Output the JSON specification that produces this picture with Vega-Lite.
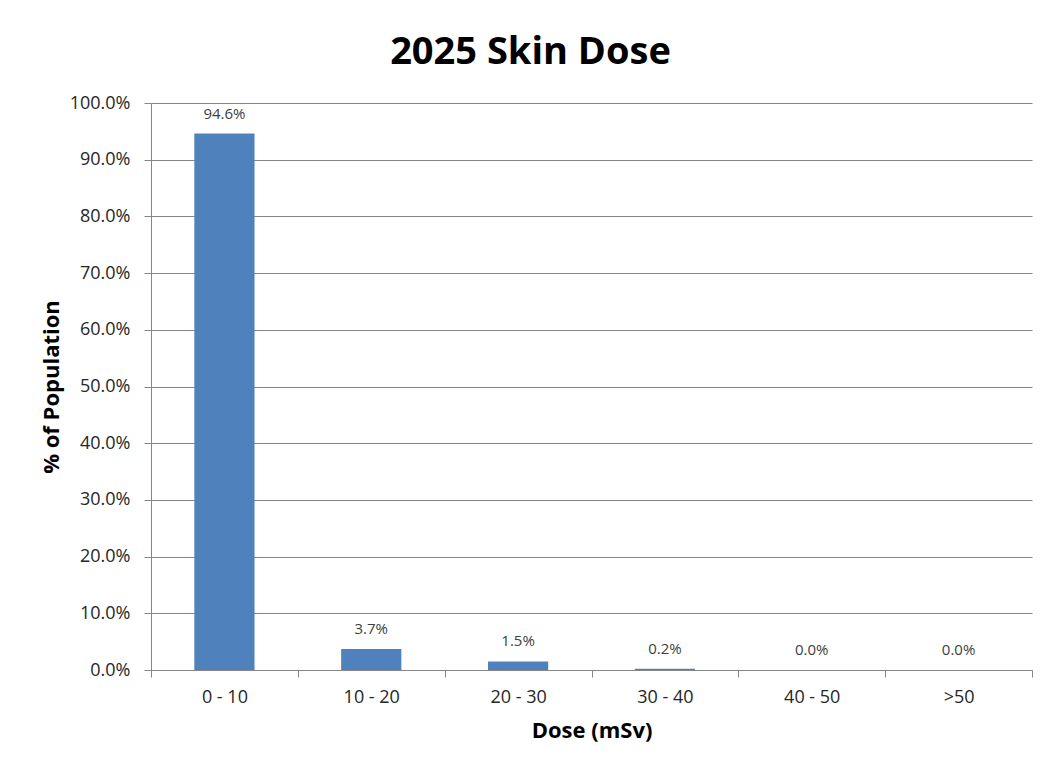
{
  "$schema": "https://vega.github.io/schema/vega-lite/v6.json",
  "autosize": {"type": "none"},
  "padding": {"left": 151, "top": 103, "right": 9, "bottom": 92},
  "width": 881,
  "height": 567,
  "background": "white",
  "title": {
    "text": "2025 Skin Dose",
    "font": "Open Sans",
    "fontSize": 38,
    "fontWeight": "bold",
    "color": "#000000",
    "anchor": "middle",
    "dx": -61,
    "offset": 22
  },
  "data": {
    "values": [
      {"dose": "0 - 10", "pct": 0.946},
      {"dose": "10 - 20", "pct": 0.037},
      {"dose": "20 - 30", "pct": 0.015},
      {"dose": "30 - 40", "pct": 0.002},
      {"dose": "40 - 50", "pct": 0.0},
      {"dose": ">50", "pct": 0.0}
    ]
  },
  "encoding": {
    "x": {
      "field": "dose",
      "type": "nominal",
      "sort": null,
      "scale": {"paddingInner": 0, "paddingOuter": 0},
      "axis": {
        "title": "Dose (mSv)",
        "labelAngle": 0,
        "tickBand": "extent",
        "grid": false,
        "tickSize": 7,
        "labelPadding": 11,
        "titlePadding": 14
      }
    },
    "y": {
      "field": "pct",
      "type": "quantitative",
      "scale": {"domain": [0, 1], "nice": false},
      "axis": {
        "title": "% of Population",
        "values": [0, 0.1, 0.2, 0.3, 0.4, 0.5, 0.6, 0.7, 0.8, 0.9, 1.0],
        "format": ".1%",
        "grid": true,
        "tickSize": 7,
        "labelPadding": 14,
        "titlePadding": 6
      }
    }
  },
  "layer": [
    {"mark": {"type": "bar", "color": "#4F81BD", "width": {"band": 0.41}}},
    {
      "mark": {"type": "text", "font": "Open Sans", "fontSize": 15, "color": "#404040", "baseline": "middle", "dy": -20},
      "encoding": {"text": {"field": "pct", "type": "quantitative", "format": ".1%"}}
    }
  ],
  "config": {
    "view": {"stroke": null},
    "axis": {
      "domainColor": "#868686",
      "tickColor": "#868686",
      "gridColor": "#868686",
      "gridOpacity": 1,
      "labelFont": "Open Sans",
      "labelFontSize": 18,
      "labelColor": "#262626",
      "titleFont": "Open Sans",
      "titleFontSize": 22,
      "titleFontWeight": "bold",
      "titleColor": "#000000"
    }
  }
}
